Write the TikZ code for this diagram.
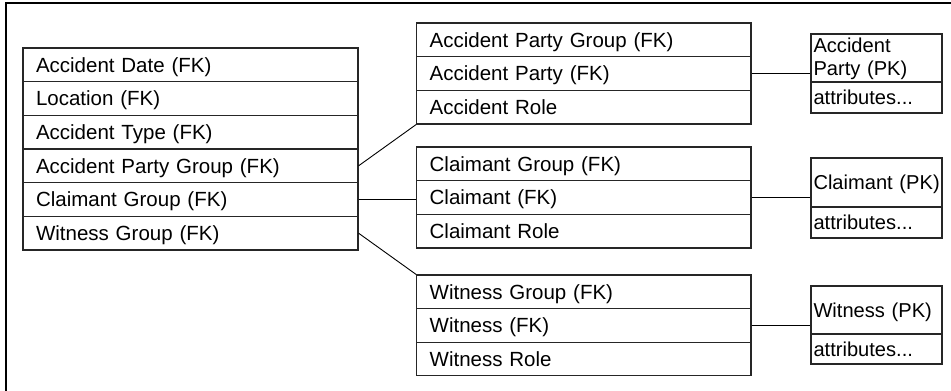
\documentclass[tikz,border=0pt]{standalone}
\usepackage{fontspec}
\setmainfont{Liberation Sans}
\begin{document}
\begin{tikzpicture}[x=1pt,y=-1pt,
 cell/.style={draw=black!85, line width=1.2pt, minimum height=33.6pt, inner ysep=0pt,
   text height=14.7pt, text depth=0pt, align=left, font=\fontsize{20.5}{22.3}\selectfont},
 lcell/.style={cell, text width=309pt, inner xsep=13pt},
 mcell/.style={cell, text width=308.3pt, inner xsep=13pt},
 rcell/.style={cell, text width=126pt, inner xsep=2.5pt, font=\fontsize{20.1}{22.3}\selectfont},
 link/.style={draw=black, line width=0.9pt}]
\useasboundingbox (0,0) rectangle (951,391);
% frame
\draw[line width=2pt] (6,391) -- (6,3) -- (951,3);
% left table
\node[lcell] (lad) at (190.5,64.8) {Accident Date (FK)};
\node[lcell] (lloc) at (190.5,98.5) {Location (FK)};
\node[lcell] (lat) at (190.5,132.2) {Accident Type (FK)};
\node[lcell] (lapg) at (190.5,165.8) {Accident Party Group (FK)};
\node[lcell] (lcg) at (190.5,199.5) {Claimant Group (FK)};
\node[lcell] (lwg) at (190.5,233.2) {Witness Group (FK)};
% middle tables
\node[mcell] (apg) at (583.8,39.8) {Accident Party Group (FK)};
\node[mcell] (apf) at (583.8,73.5) {Accident Party (FK)};
\node[mcell] (apr) at (583.8,107.2) {Accident Role};
\node[mcell] (cg) at (583.8,163.8) {Claimant Group (FK)};
\node[mcell] (cf) at (583.8,197.5) {Claimant (FK)};
\node[mcell] (cr) at (583.8,231.2) {Claimant Role};
\node[mcell] (wg) at (583.8,291.8) {Witness Group (FK)};
\node[mcell] (wf) at (583.8,325.4) {Witness (FK)};
\node[mcell] (wr) at (583.8,359) {Witness Role};
% right tables
\node[rcell, minimum height=48pt, text depth=25.3pt] (appk) at (876.5,58) {Accident\\Party~(PK)};
\node[rcell, minimum height=31pt] (apat) at (876.5,97.5) {attributes...};
\node[rcell, minimum height=49pt] (cpk) at (876.5,182.5) {Claimant~(PK)};
\node[rcell, minimum height=31pt] (cat) at (876.5,222.5) {attributes...};
\node[rcell, minimum height=48pt] (wpk) at (876.5,310) {Witness~(PK)};
\node[rcell, minimum height=30pt] (wat) at (876.5,349) {attributes...};
% connectors
\draw[link] (lapg.east) -- (apr.south west);
\draw[link] (lcg.east) -- (lcg.east -| cf.west);
\draw[link] (lwg.east) -- (wg.north west);
\draw[link] (apf.east) -- (apf.east -| appk.west);
\draw[link] (cf.east) -- (cf.east -| cpk.west);
\draw[link] (wf.east) -- (wf.east -| wpk.west);
\end{tikzpicture}
\end{document}
